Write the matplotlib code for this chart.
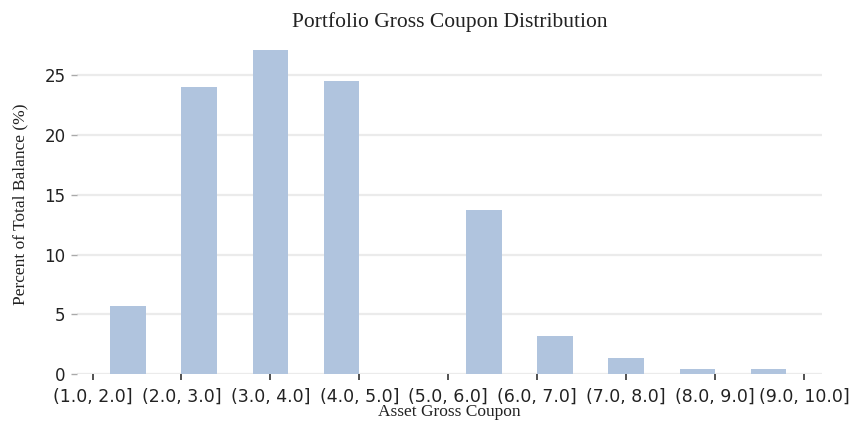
import matplotlib.pyplot as plt
import numpy as np

# bar heights per slot (slot 4 is empty)
balance_pct = [5.7, 24.0, 27.1, 24.5, 0.0, 13.7, 3.2, 1.3, 0.4, 0.4]
tick_labels = ['(1.0, 2.0]', '(2.0, 3.0]', '(3.0, 4.0]', '(4.0, 5.0]', '(5.0, 6.0]',
               '(6.0, 7.0]', '(7.0, 8.0]', '(8.0, 9.0]', '(9.0, 10.0]']

fig = plt.figure(figsize=(8.54, 4.25), dpi=100)
ax = fig.add_axes([0.090, 0.12, 0.8725, 0.80])

pos = np.arange(len(balance_pct))
ax.bar(pos, balance_pct, width=0.5, color='#b0c4de', zorder=2)

ax.set_xlim(-0.72, 9.75)
ax.set_ylim(0, 28.46)
ax.set_yticks([0, 5, 10, 15, 20, 25])
ax.set_xticks(np.linspace(-0.5, 9.5, len(tick_labels)))
ax.set_xticklabels(tick_labels, fontsize=12.5, family='DejaVu Sans', color='#222222')
for lab in ax.get_yticklabels():
    lab.set_fontsize(12)
    lab.set_color('#222222')

ax.grid(axis='y', color='#ebebeb', linewidth=1.6, zorder=0)
for s in ax.spines.values():
    s.set_visible(False)
ax.tick_params(axis='y', length=4, width=1, color='#aaaaaa', pad=4)
ax.tick_params(axis='x', length=4, width=1.2, color='#333333', pad=6)

ax.set_title('Portfolio Gross Coupon Distribution', family='Liberation Serif',
             fontsize=15.5, color='#222222', pad=5)
ax.set_xlabel('Asset Gross Coupon', family='Liberation Serif', fontsize=12.5,
              color='#222222', labelpad=-1)
ax.set_ylabel('Percent of Total Balance (%)', family='Liberation Serif', fontsize=12.5,
              color='#222222', labelpad=12)

fig.savefig('out.png', dpi=100)
